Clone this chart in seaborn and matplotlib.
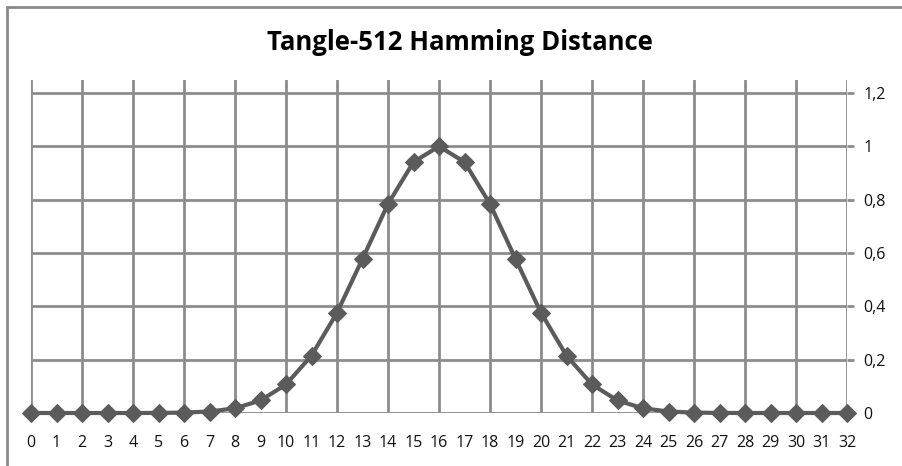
import numpy as np
import pandas as pd
import seaborn as sns
import matplotlib
matplotlib.use("Agg")
import matplotlib.pyplot as plt
from matplotlib.lines import Line2D

# hamming distance (bits differing) and relative frequency
distance = list(range(0, 33))
freq = [0.0, 0.0, 0.0, 0.0, 0.0, 0.0003, 0.0015, 0.0056, 0.0175, 0.047,
        0.107, 0.215, 0.376, 0.578, 0.784, 0.941, 1.0, 0.941, 0.784, 0.578,
        0.376, 0.215, 0.107, 0.047, 0.0175, 0.0056, 0.0015, 0.0003, 0.0,
        0.0, 0.0, 0.0, 0.0]
yticks = [0, 0.2, 0.4, 0.6, 0.8, 1.0, 1.2]
ytick_labels = ["0", "0,2", "0,4", "0,6", "0,8", "1", "1,2"]
title = "Tangle-512 Hamming Distance"

df = pd.DataFrame({"distance": distance, "freq": freq})

sns.set_style("white")
plt.rcParams['font.family'] = ['Open Sans', 'DejaVu Sans']

W, H = 902, 466
fig = plt.figure(figsize=(W / 100, H / 100), dpi=100)

# outer chart border (Excel style), only left and top visible
border_c = "#8a8a8a"
fig.add_artist(Line2D([7 / W, 7 / W], [0, (H - 7) / H], transform=fig.transFigure,
                      color=border_c, linewidth=2))
fig.add_artist(Line2D([7 / W, 1], [(H - 7) / H, (H - 7) / H], transform=fig.transFigure,
                      color=border_c, linewidth=2))

y0_px, y12_px, top_px = 413, 93, 80
ppu = (y0_px - y12_px) / 1.2
ytop = (y0_px - top_px) / ppu
ax = fig.add_axes([31 / W, (H - y0_px) / H, 816 / W, (y0_px - top_px) / H])

grid_c = "#8c8c8c"
sns.lineplot(data=df, x="distance", y="freq", ax=ax, color="#5b5b5b",
             linewidth=3, marker="D", markersize=9, markeredgecolor="#5b5b5b",
             clip_on=False, zorder=5)

ax.set_xlim(0, 32)
ax.set_ylim(0, ytop)
# gridlines / tick marks every 2, labels on every integer
ax.xaxis.remove_overlapping_locs = False
ax.set_xticks(distance[::2])
ax.set_xticks(distance, minor=True)
ax.set_xticklabels([])
ax.set_xticklabels([str(d) for d in distance], minor=True)
ax.set_yticks(yticks)
ax.set_yticklabels(ytick_labels)
ax.yaxis.tick_right()
ax.grid(True, which="major", color=grid_c, linewidth=2)
ax.set_axisbelow(True)
for s in ax.spines.values():
    s.set_visible(False)
ax.tick_params(axis="x", which="major", direction="out", length=5, width=2,
               color=grid_c)
ax.tick_params(axis="x", which="minor", length=0, pad=16, labelsize=11.5,
               labelcolor="#111111")
ax.tick_params(axis="y", direction="out", length=5, width=2, color=grid_c,
               pad=7, labelsize=11.5, labelcolor="#111111")
ax.set_xlabel("")
ax.set_ylabel("")

fig.text(460 / W, (H - 43) / H, title, ha="center", va="center",
         fontsize=18.5, fontweight="bold", color="#000000")

fig.savefig("out.png", dpi=100)
